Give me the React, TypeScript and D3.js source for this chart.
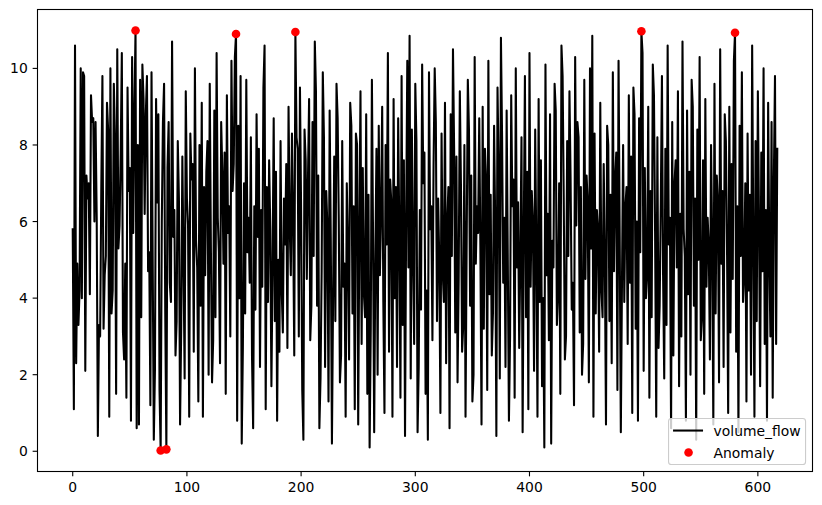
import React, { useEffect } from "react";
import * as d3 from "d3";

const volumeFlow: number[] = [
  5.8, 1.1, 10.6, 2.3, 4.9, 3.3, 4.2, 10.0, 4.0, 9.9, 9.8, 2.1, 7.2, 6.6, 7.0, 4.1, 9.3, 8.6, 8.7, 6.0,
  8.6, 6.1, 0.4, 3.3, 3.0, 6.8, 9.8, 3.2, 4.6, 5.1, 9.1, 8.4, 0.9, 10.0, 3.6, 4.2, 9.6, 8.2, 1.5, 10.5,
  5.3, 5.9, 7.8, 10.4, 3.1, 2.4, 4.9, 1.4, 9.5, 6.8, 7.4, 0.8, 10.3, 5.7, 8.9, 10.99, 0.6, 8.0, 0.7, 9.7,
  3.5, 10.1, 9.2, 6.2, 8.8, 9.8, 4.7, 5.2, 1.2, 9.9, 5.1, 0.3, 2.1, 9.2, 6.5, 8.8, 1.6, 0.02, 6.0, 8.6,
  9.6, 3.7, 0.05, 7.4, 8.6, 4.4, 3.9, 10.7, 5.6, 6.3, 2.5, 3.4, 8.1, 6.6, 0.7, 3.2, 7.7, 5.0, 1.9, 9.4,
  6.6, 5.9, 0.9, 8.3, 7.1, 7.5, 2.6, 10.0, 5.5, 4.8, 1.3, 8.0, 3.8, 9.1, 0.9, 6.9, 4.6, 7.3, 8.1, 2.0,
  9.6, 5.3, 1.8, 2.9, 8.9, 3.5, 10.4, 6.1, 5.2, 2.3, 8.6, 7.3, 4.9, 7.8, 1.5, 9.3, 5.7, 6.4, 3.0, 10.2,
  6.8, 7.5, 10.3, 10.9, 0.8, 8.5, 4.0, 9.8, 0.2, 2.7, 7.0, 3.6, 9.7, 5.2, 6.1, 4.4, 8.2, 2.5, 0.6, 6.4,
  3.7, 8.8, 5.6, 7.9, 2.2, 6.3, 4.3, 9.5, 10.6, 1.1, 6.9, 3.9, 7.6, 5.8, 1.7, 4.8, 8.7, 3.4, 7.3, 0.8,
  5.0, 2.6, 8.1, 4.2, 3.1, 6.6, 5.4, 7.5, 2.7, 9.0, 5.9, 4.6, 8.3, 6.0, 2.5, 10.95, 8.2, 7.9, 3.0, 9.5,
  6.3, 1.6, 0.3, 8.4, 7.6, 4.5, 7.1, 9.2, 2.9, 3.8, 8.6, 5.1, 10.7, 9.4, 3.8, 7.2, 0.6, 1.9, 4.7, 9.9,
  8.2, 2.2, 6.8, 5.9, 1.3, 8.9, 5.5, 0.2, 4.0, 7.7, 3.4, 9.6, 8.7, 6.0, 1.8, 2.5, 8.1, 4.3, 4.9, 0.9,
  7.0, 5.3, 2.4, 9.1, 8.5, 3.6, 6.4, 1.1, 8.3, 8.0, 0.7, 5.8, 9.4, 2.8, 7.4, 4.1, 3.5, 8.8, 1.5, 6.7,
  0.1, 3.2, 9.7, 5.6, 0.5, 5.0, 7.9, 2.0, 8.5, 4.6, 6.2, 9.0, 3.9, 1.0, 8.0, 5.4, 10.4, 2.6, 7.1, 6.5,
  0.9, 9.2, 4.0, 6.9, 2.2, 8.7, 5.7, 1.4, 9.8, 3.3, 7.6, 0.4, 6.1, 10.2, 4.8, 10.85, 1.9, 8.4, 5.2, 2.8,
  9.6, 8.1, 0.5, 2.2, 6.3, 3.7, 10.1, 7.0, 7.8, 1.5, 4.2, 0.3, 9.9, 5.8, 6.4, 2.9, 7.5, 10.0, 8.6, 3.4,
  6.6, 5.0, 1.0, 8.3, 4.7, 3.9, 9.1, 2.3, 6.0, 6.9, 0.6, 8.8, 5.1, 10.5, 7.9, 3.1, 7.7, 1.8, 4.5, 9.4,
  6.9, 2.6, 3.3, 8.0, 0.9, 5.5, 9.7, 8.4, 3.8, 7.2, 1.3, 2.0, 10.3, 4.9, 6.4, 5.7, 8.7, 5.3, 0.7, 9.0,
  3.2, 7.9, 7.1, 1.6, 10.2, 4.1, 6.7, 2.5, 3.6, 8.5, 5.9, 0.4, 9.5, 7.4, 1.9, 10.8, 8.2, 4.4, 6.1, 2.2,
  8.9, 5.0, 0.8, 3.0, 9.3, 6.4, 7.1, 1.4, 10.0, 4.8, 6.5, 2.7, 5.1, 8.2, 0.5, 5.7, 9.8, 3.5, 7.3, 1.1,
  10.4, 4.3, 6.8, 6.0, 2.1, 8.4, 5.2, 0.9, 9.2, 3.9, 7.6, 1.7, 4.0, 0.1, 10.1, 4.6, 6.2, 2.9, 8.8, 0.2,
  5.5, 4.8, 9.6, 8.9, 3.3, 4.1, 7.0, 1.5, 10.6, 9.8, 6.6, 2.4, 3.0, 8.1, 5.1, 9.4, 7.1, 3.7, 4.4, 1.2,
  10.3, 5.9, 8.6, 8.2, 3.1, 6.9, 2.0, 2.8, 9.7, 4.5, 7.2, 6.5, 1.8, 10.0, 5.3, 10.85, 0.9, 8.3, 3.6, 6.3,
  5.8, 2.6, 9.1, 4.2, 3.5, 7.5, 5.0, 0.7, 8.5, 8.0, 3.4, 6.7, 2.3, 9.9, 4.7, 7.1, 7.8, 1.6, 10.2, 5.6,
  0.5, 4.4, 8.0, 3.9, 6.4, 6.9, 2.8, 9.3, 4.4, 7.7, 1.0, 9.5, 8.8, 3.2, 6.0, 0.8, 8.7, 5.2, 10.97, 10.4,
  2.1, 7.4, 4.0, 4.6, 9.0, 1.4, 6.8, 3.5, 10.1, 9.3, 5.7, 0.9, 8.2, 2.7, 3.8, 6.5, 9.8, 4.6, 1.9, 7.9,
  3.3, 10.6, 5.4, 6.1, 0.6, 8.6, 2.5, 7.0, 7.6, 4.8, 9.4, 1.7, 6.2, 3.0, 10.7, 5.8, 5.1, 0.8, 8.9, 4.1,
  7.3, 2.0, 9.7, 9.0, 3.8, 6.6, 0.3, 8.4, 5.0, 10.3, 2.9, 3.5, 7.6, 1.5, 9.2, 4.3, 6.1, 5.4, 2.4, 8.0,
  5.5, 0.7, 9.6, 3.6, 7.2, 6.5, 1.8, 10.5, 4.9, 6.8, 2.2, 8.8, 8.1, 5.3, 1.0, 9.0, 3.1, 7.5, 4.5, 10.2,
  10.93, 2.6, 6.4, 0.5, 8.5, 5.1, 9.9, 3.9, 4.6, 7.0, 1.3, 8.3, 4.2, 6.7, 2.0, 10.6, 5.6, 0.9, 8.1, 3.4,
  9.4, 6.0, 1.7, 7.8, 4.7, 10.0, 2.8, 6.3, 0.8, 9.1, 5.2, 3.0, 8.6, 1.4, 7.1, 9.8, 2.8, 7.9,
];

const anomalyIndex: number[] = [55, 77, 82, 143, 195, 498, 580];

const xTicks: number[] = [0, 100, 200, 300, 400, 500, 600];
const yTicks: number[] = [0, 2, 4, 6, 8, 10];
const seriesLabels: string[] = ["volume_flow", "Anomaly"];

const W = 822;
const H = 505;
const AX = { left: 37.5, top: 9.5, width: 775, height: 462 };
const FONT = "'DejaVu Sans', sans-serif";
const FS = 13.9;

export default function App() {
  useEffect(() => {
    document.body.style.margin = "0";
  }, []);

  const n = volumeFlow.length;
  const xMax = n - 1;
  const xPad = xMax * 0.05;
  const x = d3
    .scaleLinear()
    .domain([-xPad, xMax + xPad])
    .range([AX.left, AX.left + AX.width]);
  const yMin = d3.min(volumeFlow) as number;
  const yMaxV = d3.max(volumeFlow) as number;
  const yPad = (yMaxV - yMin) * 0.05;
  const y = d3
    .scaleLinear()
    .domain([yMin - yPad, yMaxV + yPad])
    .range([AX.top + AX.height, AX.top]);

  const line = d3
    .line<number>()
    .x((_, i) => x(i))
    .y((d) => y(d));

  const bottom = AX.top + AX.height;
  const right = AX.left + AX.width;
  const tickLen = 4.86;

  const legRight = right - 6.95;
  const legBottom = bottom - 6.95;
  const legW = 137;
  const legH = 46;
  const legX = legRight - legW;
  const legY = legBottom - legH;

  return (
    <svg width={W} height={H} style={{ display: "block", background: "#fff" }} fontFamily={FONT}>
      <rect x={0} y={0} width={W} height={H} fill="#fff" />
      <defs>
        <clipPath id="axclip">
          <rect x={AX.left} y={AX.top} width={AX.width} height={AX.height} />
        </clipPath>
      </defs>
      <g clipPath="url(#axclip)">
        <path
          d={line(volumeFlow) as string}
          fill="none"
          stroke="#000"
          strokeWidth={2.08}
          strokeLinejoin="round"
          strokeLinecap="square"
        />
        {anomalyIndex.map((i) => (
          <circle key={i} cx={x(i)} cy={y(volumeFlow[i])} r={4.3} fill="#ff0000" />
        ))}
      </g>
      <rect
        x={AX.left}
        y={AX.top}
        width={AX.width}
        height={AX.height}
        fill="none"
        stroke="#000"
        strokeWidth={1.1}
      />
      {xTicks.map((t) => (
        <g key={"x" + t}>
          <line x1={x(t)} x2={x(t)} y1={bottom} y2={bottom + tickLen} stroke="#000" strokeWidth={1.1} />
          <text x={x(t)} y={bottom + tickLen + 4.86} dy="0.76em" textAnchor="middle" fontSize={FS} fill="#000">
            {t}
          </text>
        </g>
      ))}
      {yTicks.map((t) => (
        <g key={"y" + t}>
          <line x1={AX.left - tickLen} x2={AX.left} y1={y(t)} y2={y(t)} stroke="#000" strokeWidth={1.1} />
          <text x={AX.left - tickLen - 4.86} y={y(t)} dy="0.36em" textAnchor="end" fontSize={FS} fill="#000">
            {t}
          </text>
        </g>
      ))}
      <g>
        <rect
          x={legX}
          y={legY}
          width={legW}
          height={legH}
          rx={2.8}
          fill="#fff"
          fillOpacity={0.8}
          stroke="#cccccc"
          strokeWidth={1.1}
        />
        <line x1={legX + 4.5} x2={legX + 34.5} y1={legY + 12} y2={legY + 12} stroke="#000" strokeWidth={2.08} />
        <text x={legX + 45} y={legY + 12} dy="0.36em" fontSize={FS} fill="#000">
          {seriesLabels[0]}
        </text>
        <circle cx={legX + 20} cy={legY + 34} r={4.3} fill="#ff0000" />
        <text x={legX + 45} y={legY + 34} dy="0.36em" fontSize={FS} fill="#000">
          {seriesLabels[1]}
        </text>
      </g>
    </svg>
  );
}
